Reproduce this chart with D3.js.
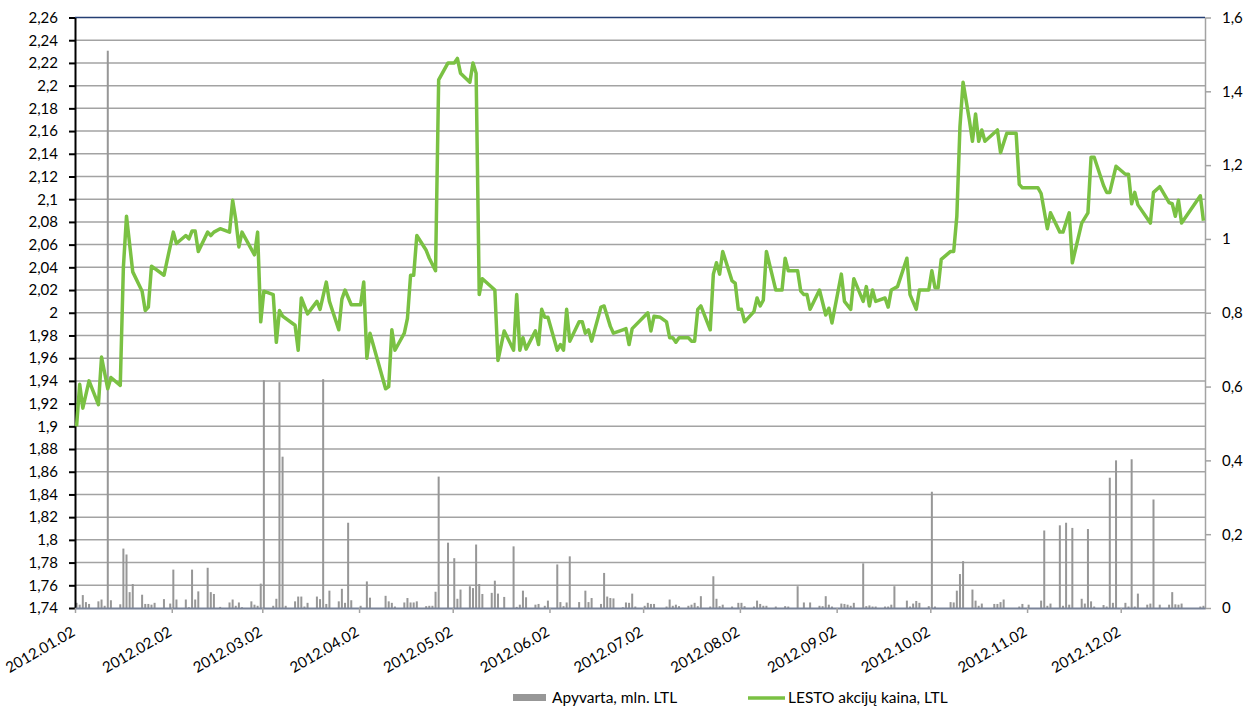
<!DOCTYPE html>
<html>
<head>
<meta charset="utf-8">
<script src="https://cdn.jsdelivr.net/npm/d3@7"></script>
<style>
body { margin: 0; background: #fff; }
text { font-family: Lato, "Open Sans", sans-serif; fill: #000; }
</style>
</head>
<body>
<svg id="chart" width="1251" height="710"></svg>
<script>
// LESTO share price (left axis), by quarter, [month-day, LTL]
const priceQ1 = [["01-02",1.900],["01-03",1.937],["01-04",1.916],["01-06",1.940],["01-09",1.919],["01-10",1.961],["01-12",1.933],["01-13",1.943],["01-16",1.936],["01-17",2.040],["01-18",2.085],["01-20",2.036],["01-23",2.019],["01-24",2.002],["01-25",2.005],["01-26",2.041],["01-30",2.033],["01-31",2.046],["02-02",2.071],["02-03",2.061],["02-06",2.068],["02-07",2.065],["02-08",2.072],["02-09",2.072],["02-10",2.054],["02-13",2.071],["02-14",2.068],["02-15",2.071],["02-17",2.074],["02-20",2.071],["02-21",2.099],["02-22",2.082],["02-23",2.058],["02-24",2.071],["02-28",2.051],["02-29",2.071],["03-01",1.992],["03-02",2.019],["03-05",2.016],["03-06",1.974],["03-07",2.002],["03-08",1.997],["03-12",1.989],["03-13",1.967],["03-14",2.013],["03-16",1.999],["03-19",2.010],["03-20",2.003],["03-22",2.027],["03-23",2.010],["03-26",1.985],["03-27",2.012],["03-28",2.020],["03-30",2.007]];
const priceQ2 = [["04-02",2.007],["04-03",2.027],["04-04",1.960],["04-05",1.982],["04-10",1.933],["04-11",1.935],["04-12",1.985],["04-13",1.967],["04-16",1.982],["04-17",1.995],["04-18",2.033],["04-19",2.033],["04-20",2.068],["04-23",2.055],["04-24",2.048],["04-26",2.037],["04-27",2.205],["04-30",2.220],["05-02",2.220],["05-03",2.224],["05-04",2.211],["05-07",2.203],["05-08",2.220],["05-09",2.211],["05-10",2.016],["05-11",2.030],["05-15",2.020],["05-16",1.958],["05-18",1.984],["05-21",1.967],["05-22",2.016],["05-23",1.967],["05-24",1.978],["05-25",1.968],["05-28",1.984],["05-29",1.972],["05-30",2.003],["05-31",1.996],["06-01",1.996],["06-04",1.967],["06-05",1.972],["06-06",1.967],["06-07",2.003],["06-08",1.975],["06-11",1.992],["06-12",1.992],["06-13",1.982],["06-14",1.985],["06-15",1.975],["06-18",2.005],["06-19",2.006],["06-21",1.988],["06-22",1.982],["06-25",1.985],["06-26",1.986],["06-27",1.972],["06-28",1.986]];
const priceQ3 = [["07-03",2.000],["07-04",1.984],["07-05",1.997],["07-07",1.996],["07-09",1.992],["07-10",1.978],["07-11",1.978],["07-12",1.974],["07-13",1.978],["07-16",1.978],["07-17",1.975],["07-18",1.975],["07-19",2.003],["07-20",2.006],["07-23",1.985],["07-24",2.034],["07-25",2.044],["07-26",2.034],["07-27",2.054],["07-30",2.028],["07-31",2.026],["08-01",2.003],["08-02",2.003],["08-03",1.992],["08-06",2.001],["08-07",2.013],["08-08",2.006],["08-09",2.011],["08-10",2.054],["08-13",2.020],["08-15",2.020],["08-16",2.048],["08-17",2.037],["08-20",2.037],["08-21",2.019],["08-22",2.016],["08-23",2.016],["08-24",2.003],["08-27",2.020],["08-29",1.998],["08-30",2.004],["08-31",1.991],["09-03",2.034],["09-04",2.010],["09-06",2.003],["09-07",2.030],["09-10",2.010],["09-11",2.023],["09-12",2.006],["09-13",2.020],["09-14",2.010],["09-17",2.013],["09-18",2.005],["09-19",2.020],["09-21",2.023],["09-24",2.048],["09-25",2.016],["09-27",2.003],["09-28",2.020]];
const priceQ4 = [["10-01",2.020],["10-02",2.037],["10-03",2.022],["10-04",2.022],["10-05",2.047],["10-08",2.054],["10-09",2.054],["10-10",2.085],["10-11",2.164],["10-12",2.203],["10-14",2.170],["10-15",2.151],["10-16",2.175],["10-17",2.151],["10-18",2.161],["10-19",2.151],["10-23",2.161],["10-24",2.141],["10-26",2.158],["10-29",2.158],["10-30",2.113],["10-31",2.110],["11-05",2.110],["11-06",2.105],["11-08",2.074],["11-09",2.088],["11-12",2.071],["11-13",2.071],["11-15",2.088],["11-16",2.044],["11-19",2.079],["11-21",2.088],["11-22",2.137],["11-23",2.137],["11-26",2.112],["11-27",2.106],["11-28",2.106],["11-30",2.129],["12-03",2.122],["12-04",2.122],["12-05",2.096],["12-06",2.106],["12-07",2.095],["12-11",2.079],["12-12",2.106],["12-14",2.111],["12-17",2.097],["12-18",2.096],["12-19",2.085],["12-20",2.099],["12-21",2.079],["12-27",2.103],["12-28",2.081]];

// turnover (right axis), mln. LTL
const turnoverQ1 = [["01-02",0.014],["01-03",0.009],["01-04",0.035],["01-05",0.016],["01-06",0.011],["01-09",0.018],["01-10",0.023],["01-11",0.006],["01-12",1.51],["01-13",0.021],["01-16",0.010],["01-17",0.161],["01-18",0.145],["01-19",0.043],["01-20",0.065],["01-23",0.036],["01-24",0.011],["01-25",0.011],["01-26",0.009],["01-27",0.014],["01-30",0.024],["02-01",0.012],["02-02",0.104],["02-03",0.023],["02-06",0.023],["02-07",0.002],["02-08",0.104],["02-09",0.023],["02-10",0.045],["02-13",0.109],["02-14",0.043],["02-15",0.038],["02-17",0.003],["02-20",0.015],["02-21",0.023],["02-22",0.006],["02-23",0.015],["02-24",0.002],["02-27",0.018],["02-28",0.009],["02-29",0.006],["03-01",0.066],["03-02",0.617],["03-05",0.006],["03-06",0.025],["03-07",0.612],["03-08",0.410],["03-09",0.006],["03-12",0.018],["03-13",0.031],["03-14",0.031],["03-15",0.004],["03-16",0.014],["03-19",0.031],["03-20",0.024],["03-21",0.620],["03-22",0.011],["03-23",0.047],["03-26",0.018],["03-27",0.052],["03-28",0.014],["03-29",0.231],["03-30",0.021]];
const turnoverQ2 = [["04-02",0.006],["04-04",0.072],["04-05",0.028],["04-10",0.033],["04-11",0.018],["04-12",0.014],["04-13",0.004],["04-16",0.015],["04-17",0.027],["04-18",0.015],["04-19",0.015],["04-20",0.018],["04-23",0.005],["04-24",0.006],["04-25",0.006],["04-26",0.044],["04-27",0.356],["04-30",0.177],["05-02",0.135],["05-03",0.025],["05-04",0.050],["05-07",0.059],["05-08",0.054],["05-09",0.172],["05-10",0.065],["05-11",0.038],["05-14",0.041],["05-15",0.074],["05-16",0.039],["05-18",0.030],["05-21",0.167],["05-22",0.003],["05-23",0.009],["05-24",0.047],["05-25",0.029],["05-28",0.009],["05-29",0.011],["05-31",0.006],["06-01",0.020],["06-04",0.118],["06-05",0.016],["06-06",0.005],["06-07",0.015],["06-08",0.140],["06-11",0.016],["06-13",0.047],["06-14",0.016],["06-15",0.027],["06-18",0.011],["06-19",0.095],["06-20",0.031],["06-21",0.027],["06-22",0.026],["06-25",0.002],["06-26",0.015],["06-27",0.014],["06-28",0.039],["06-29",0.004]];
const turnoverQ3 = [["07-02",0.006],["07-03",0.014],["07-04",0.011],["07-05",0.011],["07-09",0.004],["07-10",0.023],["07-11",0.006],["07-12",0.009],["07-13",0.005],["07-16",0.006],["07-17",0.009],["07-18",0.014],["07-19",0.005],["07-20",0.032],["07-23",0.004],["07-24",0.086],["07-25",0.025],["07-26",0.005],["07-27",0.009],["07-30",0.004],["08-01",0.014],["08-02",0.014],["08-03",0.005],["08-06",0.004],["08-07",0.020],["08-08",0.011],["08-09",0.006],["08-10",0.006],["08-13",0.004],["08-16",0.005],["08-17",0.004],["08-20",0.059],["08-22",0.015],["08-24",0.015],["08-27",0.006],["08-28",0.005],["08-29",0.032],["08-30",0.009],["08-31",0.004],["09-03",0.012],["09-04",0.011],["09-05",0.009],["09-06",0.006],["09-07",0.014],["09-10",0.121],["09-11",0.005],["09-12",0.007],["09-13",0.004],["09-14",0.004],["09-17",0.004],["09-18",0.004],["09-19",0.009],["09-20",0.059],["09-24",0.020],["09-25",0.004],["09-26",0.012],["09-27",0.019],["09-28",0.014]];
const turnoverQ4 = [["10-01",0.005],["10-02",0.315],["10-03",0.004],["10-08",0.016],["10-09",0.015],["10-10",0.047],["10-11",0.092],["10-12",0.127],["10-15",0.050],["10-16",0.020],["10-17",0.006],["10-18",0.012],["10-22",0.011],["10-23",0.011],["10-24",0.016],["10-25",0.023],["10-30",0.004],["10-31",0.011],["11-02",0.009],["11-06",0.020],["11-07",0.210],["11-08",0.006],["11-09",0.012],["11-12",0.224],["11-13",0.006],["11-14",0.231],["11-15",0.009],["11-16",0.217],["11-19",0.025],["11-20",0.012],["11-21",0.214],["11-22",0.018],["11-23",0.004],["11-26",0.008],["11-27",0.004],["11-28",0.353],["11-29",0.014],["11-30",0.400],["12-03",0.014],["12-04",0.004],["12-05",0.403],["12-06",0.004],["12-07",0.039],["12-10",0.009],["12-11",0.012],["12-12",0.294],["12-14",0.009],["12-17",0.009],["12-18",0.043],["12-19",0.010],["12-20",0.009],["12-21",0.012],["12-27",0.004],["12-28",0.006]];

const priceTicks = [1.74,1.76,1.78,1.8,1.82,1.84,1.86,1.88,1.9,1.92,1.94,1.96,1.98,2,2.02,2.04,2.06,2.08,2.1,2.12,2.14,2.16,2.18,2.2,2.22,2.24,2.26];
const turnoverTicks = [0,0.2,0.4,0.6,0.8,1,1.2,1.4,1.6];
const monthTicks = ["01-02","02-02","03-02","04-02","05-02","06-02","07-02","08-02","09-02","10-02","11-02","12-02"];
const legendLabels = ["Apyvarta, mln. LTL", "LESTO akcijų kaina, LTL"];

const plotLeft = 75, plotRight = 1205, plotTop = 17.5, plotBottom = 608;

const dayStart = s => new Date("2012-" + s + "T00:00:00Z");
const dayMid = s => new Date("2012-" + s + "T12:00:00Z");
const comma = v => String(+v.toFixed(2)).replace(".", ",");

const price = [].concat(priceQ1, priceQ2, priceQ3, priceQ4).map(d => ({date: dayMid(d[0]), value: d[1]}));
const turnover = [].concat(turnoverQ1, turnoverQ2, turnoverQ3, turnoverQ4).map(d => ({date: dayMid(d[0]), value: d[1]}));

const x = d3.scaleUtc()
	.domain([dayStart("01-02"), dayStart("12-29")])
	.range([plotLeft, plotRight]);
const yL = d3.scaleLinear().domain([1.74, 2.26]).range([plotBottom, plotTop]);
const yR = d3.scaleLinear().domain([0, 1.6]).range([plotBottom, plotTop]);

const svg = d3.select("#chart");

// horizontal gridlines
svg.append("g")
	.selectAll("line")
	.data(priceTicks.slice(1))
	.join("line")
	.attr("x1", plotLeft).attr("x2", plotRight)
	.attr("y1", d => yL(d)).attr("y2", d => yL(d))
	.attr("stroke", d => d == 2.26 ? "#243f73" : "#a3a3a3")
	.attr("stroke-width", 1.5);

// turnover bars
svg.append("g")
	.selectAll("rect")
	.data(turnover)
	.join("rect")
	.attr("x", d => x(d.date) - 1)
	.attr("width", 2)
	.attr("y", d => yR(d.value))
	.attr("height", d => plotBottom - yR(d.value))
	.attr("fill", "#979797");

// left axis
const axL = svg.append("g")
	.attr("transform", "translate(" + plotLeft + ",0)")
	.call(d3.axisLeft(yL).tickValues(priceTicks).tickFormat(comma).tickSize(6).tickSizeOuter(0).tickPadding(11));
axL.select(".domain").attr("stroke", "#000").attr("stroke-width", 2);
axL.selectAll(".tick line").attr("stroke", "#000").attr("stroke-width", 2);
axL.selectAll(".tick text").style("font-size", "15px");

// right axis
const axR = svg.append("g")
	.attr("transform", "translate(" + plotRight + ",0)")
	.call(d3.axisRight(yR).tickValues(turnoverTicks).tickFormat(comma).tickSize(6).tickSizeOuter(0).tickPadding(11));
axR.select(".domain").attr("stroke", "#a3a3a3").attr("stroke-width", 1.5);
axR.selectAll(".tick line").attr("stroke", "#a3a3a3").attr("stroke-width", 1.5);
axR.selectAll(".tick text").style("font-size", "15px");

// bottom axis
const axB = svg.append("g")
	.attr("transform", "translate(0," + plotBottom + ")")
	.call(d3.axisBottom(x).tickValues(monthTicks.map(dayStart)).tickFormat("").tickSize(5).tickSizeOuter(0));
axB.select(".domain").attr("stroke", "#7a8499").attr("stroke-width", 2);
axB.selectAll(".tick line").attr("stroke", "#a3a3a3").attr("stroke-width", 1.5);

svg.append("g")
	.selectAll("text")
	.data(monthTicks)
	.join("text")
	.attr("transform", d => "translate(" + (x(dayStart(d)) + 1) + "," + (plotBottom + 27) + ") rotate(-30)")
	.attr("text-anchor", "end")
	.style("font-size", "15px")
	.text(d => "2012." + d.replace("-", "."));

// price line
const line = d3.line()
	.x(d => x(d.date))
	.y(d => yL(d.value));

svg.append("path")
	.datum(price)
	.attr("d", line)
	.attr("fill", "none")
	.attr("stroke", "#7ac143")
	.attr("stroke-width", 3.5)
	.attr("stroke-linejoin", "round");

// legend
const legend = svg.append("g").attr("transform", "translate(0,698)");
legend.append("rect").attr("x", 513).attr("y", -4).attr("width", 33).attr("height", 7).attr("fill", "#979797");
legend.append("text").attr("x", 552).attr("y", 5).style("font-size", "15.5px").text(legendLabels[0]);
legend.append("line").attr("x1", 748).attr("x2", 785).attr("y1", 0).attr("y2", 0)
	.attr("stroke", "#7ac143").attr("stroke-width", 3.5);
legend.append("text").attr("x", 788).attr("y", 5).style("font-size", "15.5px").text(legendLabels[1]);
</script>
</body>
</html>
